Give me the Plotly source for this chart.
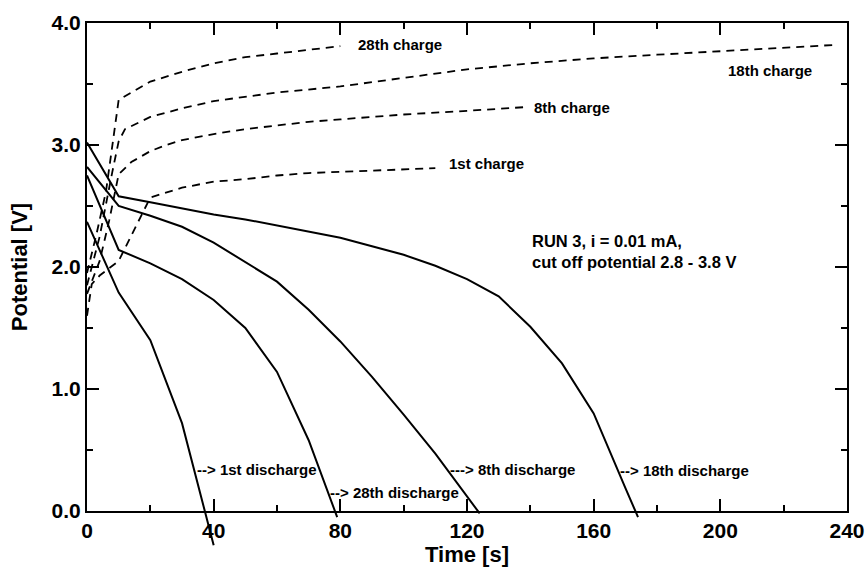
import plotly.graph_objects as go

# ---------------- data ----------------
# discharge curves (solid)
d1_t = [0, 10, 20, 30, 40]
d1_v = [2.37, 1.79, 1.40, 0.72, -0.28]

d28_t = [0, 10, 20, 30, 40, 50, 60, 70, 79]
d28_v = [2.75, 2.14, 2.03, 1.90, 1.73, 1.50, 1.14, 0.58, -0.05]

d8_t = [0, 10, 20, 30, 40, 50, 60, 70, 80, 90, 100, 110, 120, 124]
d8_v = [2.82, 2.50, 2.42, 2.33, 2.20, 2.04, 1.88, 1.65, 1.39, 1.10, 0.79, 0.47, 0.12, -0.02]

d18_t = [0, 10, 20, 30, 40, 50, 60, 70, 80, 90, 100, 110, 120, 130, 140, 150, 160, 170, 174]
d18_v = [3.02, 2.58, 2.53, 2.48, 2.43, 2.39, 2.34, 2.29, 2.24, 2.17, 2.10, 2.01, 1.90, 1.76, 1.51, 1.21, 0.80, 0.19, -0.05]

# charge curves (dashed)
c1_t = [0, 1.5, 4, 10, 20, 30, 40, 50, 60, 70, 80, 90, 100, 110]
c1_v = [1.60, 1.86, 1.93, 2.05, 2.57, 2.65, 2.70, 2.72, 2.75, 2.77, 2.78, 2.79, 2.80, 2.81]

c8_t = [0, 4, 7, 10, 14, 20, 25, 30, 40, 50, 60, 70, 80, 100, 120, 138]
c8_v = [1.78, 2.05, 2.38, 2.76, 2.86, 2.95, 3.00, 3.04, 3.09, 3.13, 3.16, 3.19, 3.21, 3.25, 3.28, 3.31]

c18_t = [0, 4, 8, 10, 12, 20, 30, 40, 60, 80, 100, 120, 140, 160, 180, 200, 220, 236]
c18_v = [1.85, 2.25, 2.78, 3.03, 3.13, 3.23, 3.30, 3.36, 3.43, 3.48, 3.55, 3.62, 3.67, 3.71, 3.74, 3.77, 3.80, 3.82]

c28_t = [0, 3, 6, 8.5, 10, 20, 30, 40, 50, 60, 70, 80]
c28_v = [1.95, 2.27, 2.62, 3.10, 3.37, 3.52, 3.60, 3.67, 3.72, 3.75, 3.78, 3.81]

x_ticks = [0, 40, 80, 120, 160, 200, 240]
y_ticks = [0.0, 1.0, 2.0, 3.0, 4.0]
y_tick_text = ["0.0", "1.0", "2.0", "3.0", "4.0"]

charge_labels = ["28th charge", "18th charge", "8th charge", "1st charge"]
discharge_labels = ["--> 1st discharge", "--> 28th discharge", "---> 8th discharge", "--> 18th discharge"]
run_text = "RUN 3, i = 0.01 mA,<br>cut off potential 2.8 - 3.8 V"

# ---------------- figure ----------------
FONT = "Liberation Sans, Arial, Helvetica, sans-serif"
W, H = 867, 572
ML, MR, MT, MB = 87, 20, 23, 24
plot_h = H - MT - MB
y0_px_from_bottom = 37  # overhang area below V = 0 (lines run past the axis)
d0 = y0_px_from_bottom / plot_h
px_per_v = plot_h * (1 - d0) / 4.0
y2_min = -y0_px_from_bottom / px_per_v

fig = go.Figure()

solid = dict(color="black", width=2)
dashed = dict(color="black", width=1.8, dash="8px,6px")

for t, v in [(c1_t, c1_v), (c8_t, c8_v), (c18_t, c18_v), (c28_t, c28_v)]:
    fig.add_trace(go.Scatter(x=t, y=v, mode="lines", line=dashed,
                             xaxis="x", yaxis="y2", showlegend=False, hoverinfo="skip"))
for t, v in [(d1_t, d1_v), (d28_t, d28_v), (d8_t, d8_v), (d18_t, d18_v)]:
    fig.add_trace(go.Scatter(x=t, y=v, mode="lines", line=solid,
                             xaxis="x", yaxis="y2", showlegend=False, hoverinfo="skip"))

axis_common = dict(
    showline=True, linewidth=2, linecolor="black", mirror="ticks",
    ticks="inside", ticklen=12, tickwidth=2, tickcolor="black",
    showgrid=False, zeroline=False, automargin=False,
    tickfont=dict(family=FONT, size=21, color="black", weight="bold"),
)

fig.update_layout(
    width=W, height=H, autosize=False,
    margin=dict(l=ML, r=MR, t=MT, b=MB),
    paper_bgcolor="white", plot_bgcolor="rgba(0,0,0,0)",
    showlegend=False,
    xaxis=dict(range=[0, 240], tickvals=x_ticks, anchor="y",
               minor=dict(dtick=20, tick0=0, ticks="inside", ticklen=6, tickwidth=2, tickcolor="black"),
               title=dict(text="Time [s]", standoff=4,
                          font=dict(family=FONT, size=22, color="black", weight="bold")),
               **axis_common),
    yaxis=dict(range=[0, 4], tickvals=y_ticks, ticktext=y_tick_text, anchor="x",
               domain=[d0, 1],
               minor=dict(dtick=0.5, tick0=0, ticks="inside", ticklen=6, tickwidth=2, tickcolor="black"),
               title=dict(text="Potential [V]", standoff=18,
                          font=dict(family=FONT, size=22, color="black", weight="bold")),
               **axis_common),
    yaxis2=dict(range=[y2_min, 4], domain=[0, 1], anchor="x", visible=False,
                showgrid=False, zeroline=False),
)

lab_font = dict(family=FONT, size=15, color="black", weight="bold")
charge_pos = [(98.9, 3.82), (215.8, 3.61), (153, 3.31), (126.1, 2.85)]
for txt, (x, y) in zip(charge_labels, charge_pos):
    fig.add_annotation(x=x, y=y, xref="x", yref="y", text=txt, showarrow=False,
                       xanchor="center", yanchor="middle", font=lab_font)

discharge_pos = [(34.2, 0.344), (76.2, 0.148), (114.0, 0.344), (167.8, 0.328)]
for txt, (x, y) in zip(discharge_labels, discharge_pos):
    fig.add_annotation(x=x, y=y, xref="x", yref="y", text=txt, showarrow=False,
                       xanchor="left", yanchor="middle", font=lab_font)

fig.add_annotation(x=140, y=2.13, xref="x", yref="y", text=run_text, showarrow=False,
                   xanchor="left", yanchor="middle", align="left",
                   font=dict(family=FONT, size=16.5, color="black", weight="bold"))

fig.write_html(
    "out.html",
    config={"displayModeBar": False, "staticPlot": True},
    post_script="document.body.style.margin='0px';document.body.style.overflow='hidden';",
)
